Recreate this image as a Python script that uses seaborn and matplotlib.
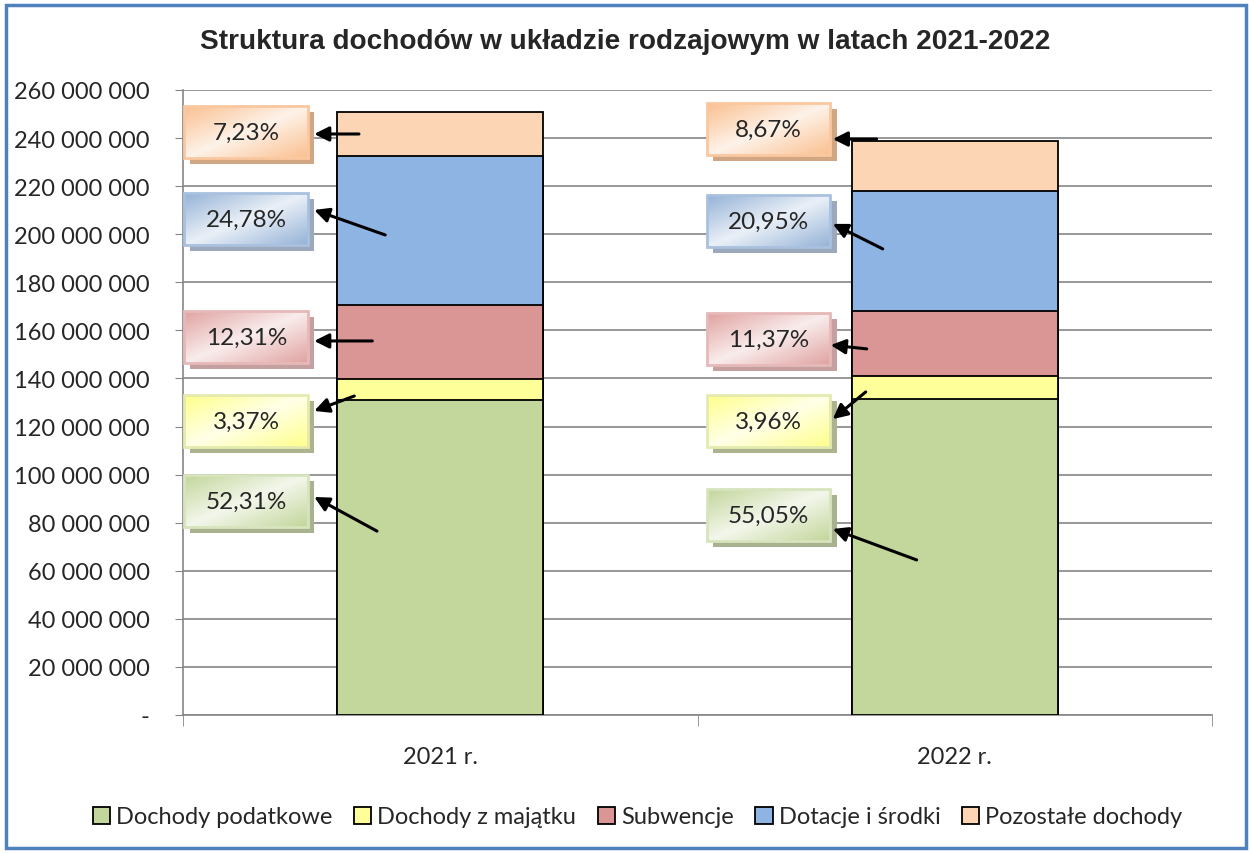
import numpy as np
import matplotlib
matplotlib.use("Agg")
import matplotlib.pyplot as plt
from matplotlib.patches import Rectangle, Patch
from matplotlib.colors import LinearSegmentedColormap, to_rgb
from matplotlib.ticker import FuncFormatter, FixedLocator
import seaborn as sns

# Data
years = ["2021 r.", "2022 r."]
categories = ["Dochody podatkowe", "Dochody z majątku", "Subwencje",
              "Dotacje i środki", "Pozostałe dochody"]
podatkowe = [131_190_000, 131_460_000]
majatek = [8_450_000, 9_460_000]
subwencje = [30_870_000, 27_150_000]
dotacje = [62_150_000, 50_030_000]
pozostale = [18_130_000, 20_700_000]
shares_2021 = ["52,31%", "3,37%", "12,31%", "24,78%", "7,23%"]
shares_2022 = ["55,05%", "3,96%", "11,37%", "20,95%", "8,67%"]

# Styles
bar_colors = ["#C3D69B", "#FFFF99", "#D99694", "#8EB4E3", "#FCD5B5"]
box_colors = ["#C3D69B", "#FFFF8C", "#E0A3A1", "#95B3D7", "#FAC090"]
box_edges = ["#D7E4BD", "#E4EBAE", "#E6B9B8", "#A9C1DF", "#FAC8A0"]
box_shadows = ["#A8B190", "#AEB38F", "#C4A0A0", "#9CA9BD", "#D1A783"]

# label layout (box centre, arrow tail, arrow head) in data units, per year
box_pos = [
    [(-0.377, 89.0e6), (-0.377, 122.3e6), (-0.377, 157.2e6), (-0.377, 206.3e6), (-0.377, 242.5e6)],
    [(0.638, 83.2e6), (0.638, 122.3e6), (0.638, 156.4e6), (0.638, 205.5e6), (0.638, 243.8e6)],
]
arrow_tail = [
    [(-0.123, 76.5e6), (-0.167, 132.7e6), (-0.132, 155.6e6), (-0.107, 199.7e6), (-0.158, 241.7e6)],
    [(0.926, 64.5e6), (0.827, 134.4e6), (0.829, 152.3e6), (0.860, 193.9e6), (0.848, 239.6e6)],
]
arrow_head = [
    [(-0.245, 90.7e6), (-0.245, 126.5e6), (-0.245, 155.6e6), (-0.245, 210.1e6), (-0.245, 241.7e6)],
    [(0.763, 77.4e6), (0.763, 123.1e6), (0.759, 153.9e6), (0.763, 204.3e6), (0.763, 239.6e6)],
]

sns.set_style("white")
plt.rcParams["font.family"] = ["Lato", "DejaVu Sans"]

fig = plt.figure(figsize=(12.51, 8.54), dpi=100)
ax = fig.add_axes([183 / 1251, 1 - 716 / 854, 1029 / 1251, 625 / 854])

series = [podatkowe, majatek, subwencje, dotacje, pozostale]
cum = np.cumsum(np.array(series), axis=0)

# stacked bars: draw the tallest cumulative first
for i in range(len(series) - 1, -1, -1):
    sns.barplot(x=years, y=cum[i], color=bar_colors[i], width=0.4,
                saturation=1, edgecolor="black", linewidth=1.3, ax=ax, zorder=3)

# label boxes with gradient and shadow
w, h = 0.241, 21.6e6
g = np.linspace(0, 1, 60)
u, t = np.meshgrid(g, g[::-1])
grad = np.abs(u - t)
for yi, shares in enumerate([shares_2021, shares_2022]):
    for ci, txt in enumerate(shares):
        cx, cy = box_pos[yi][ci]
        x0, y0 = cx - w / 2, cy - h / 2
        ax.add_patch(Rectangle((x0 + 0.012, y0 - 2.4e6), w, h,
                               facecolor=box_shadows[ci], edgecolor="none", zorder=5))
        light = tuple(0.2 * np.array(to_rgb(box_colors[ci])) + 0.8)
        cmap = LinearSegmentedColormap.from_list("g", [light, box_colors[ci]])
        ax.imshow(grad, extent=(x0, x0 + w, y0, y0 + h), cmap=cmap,
                  aspect="auto", zorder=6, interpolation="bilinear")
        ax.add_patch(Rectangle((x0, y0), w, h, facecolor="none",
                               edgecolor=box_edges[ci], lw=2, zorder=7))
        ax.text(cx, cy, txt, ha="center", va="center", fontsize=17.5, zorder=8)
        ax.annotate("", xy=arrow_head[yi][ci], xytext=arrow_tail[yi][ci],
                    arrowprops=dict(arrowstyle="-|>", color="black", lw=2.2,
                                    mutation_scale=22, shrinkA=0, shrinkB=0),
                    zorder=9)

ax.set_xlim(-0.5, 1.5)
ax.set_ylim(0, 260e6)
ax.set_yticks(np.arange(0, 260e6 + 1, 20e6))
ax.yaxis.set_major_formatter(FuncFormatter(
    lambda v, p: "-" if v == 0 else f"{v:,.0f}".replace(",", " ")))
ax.yaxis.grid(True, color="#868686", lw=1.2, zorder=0)
ax.set_axisbelow(True)
ax.tick_params(axis="y", left=True, length=6, color="#868686", pad=18, labelsize=17)
ax.tick_params(axis="x", which="major", length=0, pad=22, labelsize=17)
ax.xaxis.set_minor_locator(FixedLocator([-0.5, 0.5, 1.5]))
ax.tick_params(axis="x", which="minor", bottom=True, length=8, color="#868686")
ax.set_xlabel("")
ax.set_ylabel("")
for s in ["top", "right"]:
    ax.spines[s].set_visible(False)
for s in ["left", "bottom"]:
    ax.spines[s].set_color("#868686")
    ax.spines[s].set_linewidth(1.2)

fig.text(0.5, 1 - 42 / 854, "Struktura dochodów w układzie rodzajowym w latach 2021-2022",
         ha="center", va="center", fontsize=20.2, fontweight="bold",
         family="Liberation Sans")

handles = [Patch(facecolor=c, edgecolor="black", lw=1.3) for c in bar_colors]
fig.legend(handles, categories, loc="center", bbox_to_anchor=(0.5 + 12 / 1251, 1 - 818 / 854),
           ncol=5, frameon=False, fontsize=17, handlelength=0.75, handleheight=0.75,
           handletextpad=0.25, columnspacing=0.9)

fig.add_artist(Rectangle((6 / 1251, 5 / 854), 1240 / 1251, 843 / 854,
                         transform=fig.transFigure, facecolor="none",
                         edgecolor="#4F81BD", lw=2.5))

fig.savefig("out.png", dpi=100)
